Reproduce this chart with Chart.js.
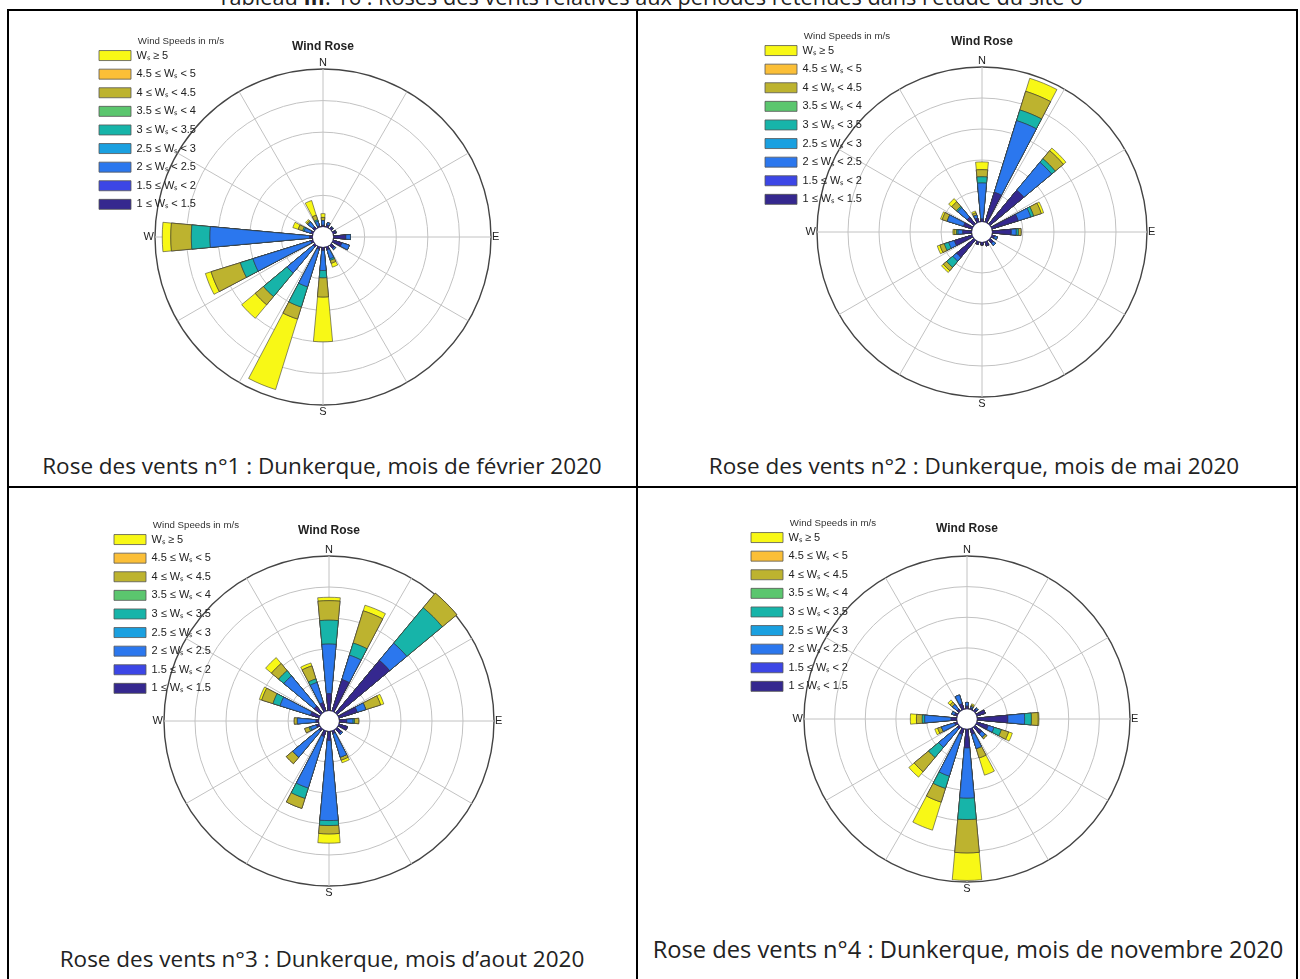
<!DOCTYPE html>
<html lang="fr">
<head>
    <meta charset="UTF-8">
    <title>Roses des vents - Dunkerque 2020</title>
    <script src="https://cdn.jsdelivr.net/npm/chart.js"></script>
    <style>
        body { margin: 0; background: #fff; }
        .page { position: relative; width: 1300px; height: 979px; overflow: hidden; font-family: 'Open Sans', sans-serif; color: #222; }
        .heading { position: absolute; left: 0; top: -17px; width: 1300px; text-align: center; font-size: 21.7px; line-height: 28px; white-space: nowrap; }
        .rule { position: absolute; background: #000; }
        .caption { position: absolute; width: 700px; text-align: center; font-size: 22.5px; line-height: 28px; white-space: nowrap; }
        canvas { position: absolute; }
    </style>
</head>
<body>
<div class="page" id="page">
    <div class="heading">Tableau <b>III</b>. 16 : Roses des vents relatives aux périodes retenues dans l'étude du site 6</div>

    <!-- table frame -->
    <div class="rule" style="left:7px; top:9px; width:1291px; height:2px"></div>
    <div class="rule" style="left:7px; top:9px; width:2px; height:970px"></div>
    <div class="rule" style="left:1296px; top:9px; width:2px; height:970px"></div>
    <div class="rule" style="left:636px; top:9px; width:2px; height:970px"></div>
    <div class="rule" style="left:7px; top:486px; width:1291px; height:2px"></div>

    <div class="caption" style="left:-28px; top:452px">Rose des vents n°1 : Dunkerque, mois de février 2020</div>
    <div class="caption" style="left:624px; top:452px">Rose des vents n°2 : Dunkerque, mois de mai 2020</div>
    <div class="caption" style="left:-28px; top:945px">Rose des vents n°3 : Dunkerque, mois d’aout 2020</div>
    <div class="caption" style="left:618px; top:935px; font-size:23.7px">Rose des vents n°4 : Dunkerque, mois de novembre 2020</div>
</div>

<script>
    // directions, clockwise from north
    const directions = ['N', 'NNE', 'NE', 'ENE', 'E', 'ESE', 'SE', 'SSE', 'S', 'SSW', 'SW', 'WSW', 'W', 'WNW', 'NW', 'NNW'];
    // speed bins, slowest first (innermost band of each bar)
    const speedBins = ['1 ≤ Wₛ < 1.5', '1.5 ≤ Wₛ < 2', '2 ≤ Wₛ < 2.5', '2.5 ≤ Wₛ < 3', '3 ≤ Wₛ < 3.5',
                       '3.5 ≤ Wₛ < 4', '4 ≤ Wₛ < 4.5', '4.5 ≤ Wₛ < 5', 'Wₛ ≥ 5'];
    const binColors = ['#35288f', '#3c46e6', '#2b77ee', '#1aa0e0', '#17b4a9', '#5bc66e', '#bdb32f', '#fbbf37', '#f8f816'];
    // spoke labels every 30°, starting at north
    const compassLabels = ['N', '', '', 'E', '', '', 'S', '', '', 'W', '', ''];
    const ringValues = [2, 4, 6, 8, 10];

    // frequency (%) per direction N..NNW, one row per speed bin
    const febFreq = [
        [0.1, 0.16, 0.16, 0.2, 0.8, 0.6, 0.3, 0.2, 0.2, 0.16, 0.16, 0.16, 0.2, 0.16, 0.2, 0.1],
        [0, 0, 0, 0, 0, 0, 0, 0, 0, 0, 0, 0, 0, 0, 0, 0],
        [0.3, 0.16, 0.04, 0.04, 0.3, 0.5, 0.1, 0.6, 1.28, 2.5, 2.16, 3.84, 6.32, 0.44, 0.4, 0.3],
        [0, 0, 0, 0, 0, 0, 0, 0, 0, 0, 0, 0, 0, 0, 0, 0],
        [0, 0, 0, 0, 0, 0, 0, 0.1, 0.46, 1.34, 1.94, 0.84, 1.18, 0.1, 0, 0.1],
        [0, 0, 0, 0, 0, 0, 0, 0, 0, 0, 0, 0, 0, 0, 0, 0],
        [0.2, 0, 0, 0, 0, 0, 0, 0.2, 1.22, 0.8, 0.68, 1.94, 1.3, 0.3, 0.1, 0.3],
        [0, 0, 0, 0, 0, 0, 0, 0, 0, 0, 0, 0, 0, 0, 0, 0],
        [0.24, 0, 0, 0, 0, 0, 0, 0.26, 2.84, 4.68, 1.12, 0.38, 0.54, 0.36, 0.1, 0.98]
    ];
    const mayFreq = [
        [0.2, 2.04, 2.86, 1.8, 1.24, 0.2, 0.3, 0.3, 0.2, 0.2, 1.48, 1.22, 0.6, 0.6, 0.6, 0.3],
        [0, 0, 0, 0, 0, 0, 0, 0, 0, 0, 0, 0, 0, 0, 0, 0],
        [2.32, 4.84, 2.34, 0.84, 0.32, 0.2, 0.2, 0, 0, 0, 0.32, 0.38, 0.3, 1.1, 0.8, 0.2],
        [0, 0, 0, 0, 0, 0, 0, 0, 0, 0, 0, 0, 0, 0, 0, 0],
        [0.4, 0.72, 0.3, 0.2, 0.14, 0, 0, 0, 0, 0, 0.52, 0.3, 0.1, 0, 0.1, 0],
        [0, 0, 0, 0, 0, 0, 0, 0, 0, 0, 0, 0, 0, 0, 0, 0],
        [0.46, 1.26, 0.68, 0.52, 0.18, 0, 0, 0, 0, 0, 0.28, 0.3, 0.16, 0.34, 0.4, 0.16],
        [0, 0, 0, 0, 0, 0, 0, 0, 0, 0, 0, 0, 0, 0, 0, 0],
        [0.5, 0.88, 0.22, 0.16, 0, 0, 0, 0, 0, 0, 0.16, 0.18, 0.08, 0.12, 0.26, 0.12]
    ];
    const augFreq = [
        [1.12, 2.16, 4.44, 1.26, 0.5, 0.6, 0.4, 0.2, 0.6, 0.4, 0.2, 0.2, 0.2, 0.6, 0.6, 0.6],
        [0, 0, 0, 0, 0, 0, 0, 0, 0, 0, 0, 0, 0, 0, 0, 0],
        [3.2, 1.64, 1.44, 0.58, 0.4, 0, 0.1, 1.6, 5.18, 3.48, 2.2, 0.4, 1.2, 2.06, 2.54, 1.36],
        [0, 0, 0, 0, 0, 0, 0, 0, 0, 0, 0, 0, 0, 0, 0, 0],
        [1.54, 0.82, 2.98, 0, 0.1, 0, 0, 0, 0.32, 0.7, 0, 0.1, 0, 0.48, 0.44, 0.24],
        [0, 0, 0, 0, 0, 0, 0, 0, 0, 0, 0, 0, 0, 0, 0, 0],
        [1.26, 2.18, 1.22, 1.0, 0.28, 0, 0, 0.2, 0.54, 0.68, 0.54, 0.3, 0.2, 0.76, 0.6, 0.88],
        [0, 0, 0, 0, 0, 0, 0, 0, 0, 0, 0, 0, 0, 0, 0, 0],
        [0.22, 0.38, 0, 0.22, 0, 0, 0, 0.18, 0.6, 0, 0, 0, 0, 0.16, 0.5, 0.2]
    ];
    const novFreq = [
        [0.2, 0.1, 0.2, 0.6, 2.02, 0.8, 0.6, 0.4, 1.24, 0.4, 0.2, 0.2, 0.4, 0.2, 0.2, 0.4],
        [0, 0, 0, 0, 0, 0, 0, 0, 0, 0, 0, 0, 0, 0, 0, 0],
        [0.24, 0.1, 0.1, 0, 1.1, 0.4, 0.3, 0.98, 3.28, 2.86, 1.56, 0.9, 1.72, 0.2, 0.4, 0.6],
        [0, 0, 0, 0, 0, 0, 0, 0, 0, 0, 0, 0, 0, 0, 0, 0],
        [0, 0, 0, 0, 0.44, 0.5, 0, 0, 1.4, 0.84, 0.86, 0, 0.16, 0, 0, 0],
        [0, 0, 0, 0, 0, 0, 0, 0, 0, 0, 0, 0, 0, 0, 0, 0],
        [0, 0.1, 0, 0, 0.44, 0.5, 0.14, 0.64, 2.18, 0.94, 1.22, 0.26, 0.38, 0, 0.2, 0],
        [0, 0, 0, 0, 0, 0, 0, 0, 0, 0, 0, 0, 0, 0, 0, 0],
        [0, 0.1, 0, 0, 0.06, 0.26, 0, 1.18, 1.8, 1.92, 0.46, 0.2, 0.4, 0, 0.18, 0]
    ];

    // where each rose sits on the page (centre and outer radius in px)
    const roses = [
        { freq: febFreq, cx: 323, cy: 237, radius: 168, legendDx: -224 },
        { freq: mayFreq, cx: 982, cy: 232, radius: 165, legendDx: -217 },
        { freq: augFreq, cx: 329, cy: 721, radius: 165, legendDx: -215 },
        { freq: novFreq, cx: 967, cy: 719, radius: 163, legendDx: -216 }
    ];

    Chart.defaults.font.family = '"Liberation Sans", Arial, Helvetica, sans-serif';
    Chart.defaults.color = '#222';

    // Bars are narrower than the 22.5° sector, so the polar area gets a
    // gap slice before every bar. Slices start at the 30° spoke (a gap).
    const barWidth = 10.5;
    const gridStart = 30;
    const arcAngles = [];
    const arcDirs = [];
    let swept = 0;
    directions.forEach((_, k) => {
        const d = (k + 2) % 16;
        const barStart = (d * 22.5 - barWidth / 2 - gridStart + 360) % 360;
        arcAngles.push(barStart - swept); arcDirs.push(null);
        arcAngles.push(barWidth); arcDirs.push(d);
        swept = barStart + barWidth;
    });
    arcAngles.push(360 - swept); arcDirs.push(null);

    const spokeLabels = compassLabels.slice(1).concat(compassLabels.slice(0, 1));

    // each bin reaches out to the running total of the bins below it
    function cumulate(freq) {
        return freq.map((row, b) => row.map((_, d) => freq.slice(0, b + 1).reduce((s, r) => s + r[d], 0)));
    }

    // white disc in the middle, like the MATLAB wind rose
    const centreHole = {
        id: 'centreHole',
        afterDatasetsDraw(chart) {
            const r = chart.scales.r;
            const ctx = chart.ctx;
            ctx.save();
            ctx.fillStyle = '#fff';
            ctx.beginPath();
            ctx.arc(r.xCenter, r.yCenter, r.getDistanceFromCenterForValue(0), 0, Math.PI * 2);
            ctx.fill();
            ctx.restore();
        }
    };

    // legend floats over the top-left corner of the rose
    const pinLegend = {
        id: 'pinLegend',
        afterLayout(chart, args, opts) {
            const r = chart.scales.r;
            const legend = chart.legend;
            const pad = legend.options.labels.padding;
            legend.left = r.xCenter + opts.dx - pad;
            legend.top = r.yCenter - 200.85;
            legend.right = r.xCenter + opts.dx + 125;
            legend.width = legend.right - legend.left;
            legend.height = 230;
            legend.bottom = legend.top + legend.height;
        }
    };

    const page = document.getElementById('page');

    roses.forEach((rose) => {
        const R = rose.radius;
        const canvas = document.createElement('canvas');
        canvas.width = 480;
        canvas.height = 34 + 2 * R + 24;
        canvas.style.left = (rose.cx - 240) + 'px';
        canvas.style.top = Math.round(rose.cy - R - 46) + 'px';
        page.appendChild(canvas);

        const stacked = cumulate(rose.freq);
        const titleTop = R - 158;

        new Chart(canvas.getContext('2d'), {
            type: 'polarArea',
            data: {
                labels: arcDirs.map(d => d === null ? '' : directions[d]),
                datasets: speedBins.map((label, b) => ({
                    label: label,
                    data: arcDirs.map(d => d === null ? 0 : stacked[b][d]),
                    backgroundColor: binColors[b],
                    borderColor: 'rgba(50, 50, 50, 0.8)',
                    borderWidth: 0.7,
                    angle: ctx => arcAngles[ctx.dataIndex]
                }))
            },
            options: {
                responsive: false,
                animation: false,
                events: [],
                layout: { padding: { top: 7.5 } },
                scales: {
                    r: {
                        min: -0.64,
                        max: 10,
                        startAngle: gridStart,
                        labels: spokeLabels,
                        afterBuildTicks: scale => { scale.ticks = ringValues.map(v => ({ value: v })); },
                        ticks: { display: false },
                        grid: {
                            circular: true,
                            color: ctx => ctx.tick && ctx.tick.value === 10 ? '#444' : '#c2c2c2',
                            lineWidth: ctx => ctx.tick && ctx.tick.value === 10 ? 1.4 : 1
                        },
                        angleLines: { display: true, color: '#c2c2c2', lineWidth: 1 },
                        pointLabels: {
                            display: true,
                            padding: 1,
                            color: '#222',
                            font: { size: 11, lineHeight: 1 }
                        }
                    }
                },
                plugins: {
                    title: {
                        display: true,
                        text: 'Wind Rose',
                        color: '#222',
                        font: { size: 12, weight: 'bold', lineHeight: 1 },
                        padding: { top: titleTop, bottom: 14.5 - titleTop }
                    },
                    legend: {
                        position: 'chartArea',
                        align: 'start',
                        reverse: true,
                        title: {
                            display: true,
                            text: 'Wind Speeds in m/s',
                            position: 'end',
                            color: '#333',
                            font: { size: 9.7, lineHeight: 0.65 }
                        },
                        labels: {
                            boxWidth: 32,
                            boxHeight: 10,
                            padding: 7.6,
                            font: { size: 11 },
                            generateLabels: chart => chart.data.datasets.map((ds, i) => ({
                                text: ds.label,
                                fillStyle: ds.backgroundColor,
                                strokeStyle: '#555',
                                lineWidth: 0.8,
                                fontColor: '#222',
                                hidden: false,
                                datasetIndex: i
                            }))
                        }
                    },
                    tooltip: { enabled: false },
                    pinLegend: { dx: rose.legendDx }
                }
            },
            plugins: [centreHole, pinLegend]
        });
    });
</script>
</body>
</html>
